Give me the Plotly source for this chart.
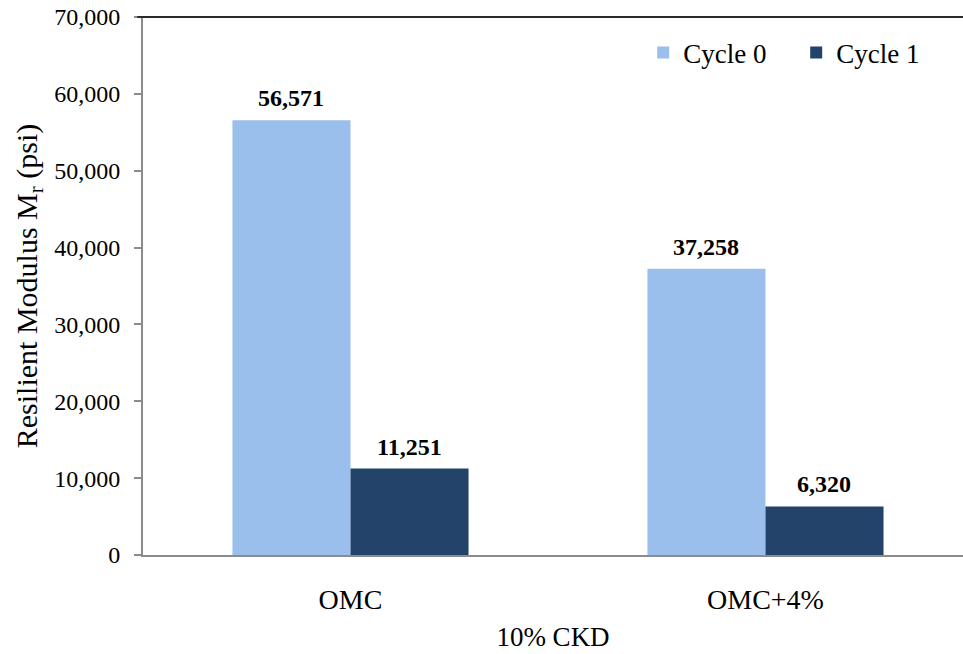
import plotly.graph_objects as go

# Resilient modulus for 10% CKD specimens at two moisture contents
categories = ["OMC", "OMC+4%"]
cycle0 = [56571, 37258]
cycle1 = [11251, 6320]
series_names = ["Cycle 0", "Cycle 1"]
y_ticks = [0, 10000, 20000, 30000, 40000, 50000, 60000, 70000]

SERIF = "Liberation Serif"
LIGHT = "#9BBFEC"
DARK = "#23436A"

BAR_PX = 118  # rendered width of one bar, used to centre the value labels

fig = go.Figure()
series = [cycle0, cycle1]
colors = [LIGHT, DARK]
annotations = []
for i, (name, vals, color) in enumerate(zip(series_names, series, colors)):
    fig.add_trace(go.Bar(
        name=name,
        x=categories,
        y=vals,
        marker=dict(color=color, line=dict(width=0)),
    ))
    offset = (i - 0.5) * BAR_PX
    for cat, v in zip(categories, vals):
        annotations.append(dict(
            x=cat, y=v, xref="x", yref="y",
            text=f"{v:,}",
            showarrow=False,
            xshift=offset, yshift=22,
            yanchor="middle",
            font=dict(family=SERIF, size=24, color="black", weight="bold"),
        ))

fig.update_layout(
    width=963,
    height=654,
    margin=dict(l=143, r=0, t=17, b=99),
    paper_bgcolor="white",
    plot_bgcolor="white",
    barmode="group",
    bargap=0.431,
    bargroupgap=0,
    font=dict(family=SERIF, size=24, color="black"),
    showlegend=True,
    legend=dict(
        orientation="h",
        x=0.61, xanchor="left",
        y=0.933, yanchor="middle",
        font=dict(family=SERIF, size=27, color="black"),
        bgcolor="rgba(0,0,0,0)",
        entrywidth=108,
        itemsizing="constant",
    ),
    xaxis=dict(
        range=[-0.5, 1.476],
        showline=True,
        linecolor="#8C8C8C",
        linewidth=2,
        ticks="",
        showgrid=False,
        tickfont=dict(family=SERIF, size=28),
        ticklabelstandoff=18,
        title=dict(text="10% CKD", font=dict(family=SERIF, size=27), standoff=14),
    ),
    yaxis=dict(
        range=[0, 70000],
        tickvals=y_ticks,
        tickformat=",",
        showline=True,
        linecolor="#8C8C8C",
        linewidth=2,
        ticks="outside",
        ticklen=7,
        tickcolor="#8C8C8C",
        tickwidth=2,
        showgrid=False,
        zeroline=False,
        tickfont=dict(family=SERIF, size=24),
        ticklabelstandoff=9,
        title=dict(text="Resilient Modulus M<sub>r</sub> (psi)",
                   font=dict(family=SERIF, size=30), standoff=8),
    ),
    annotations=annotations,
    shapes=[dict(
        type="line", xref="paper", yref="paper",
        x0=-0.007, x1=1, y0=1, y1=1,
        line=dict(color="#2B2B2B", width=2),
    )],
)

fig.write_html("out.html")
